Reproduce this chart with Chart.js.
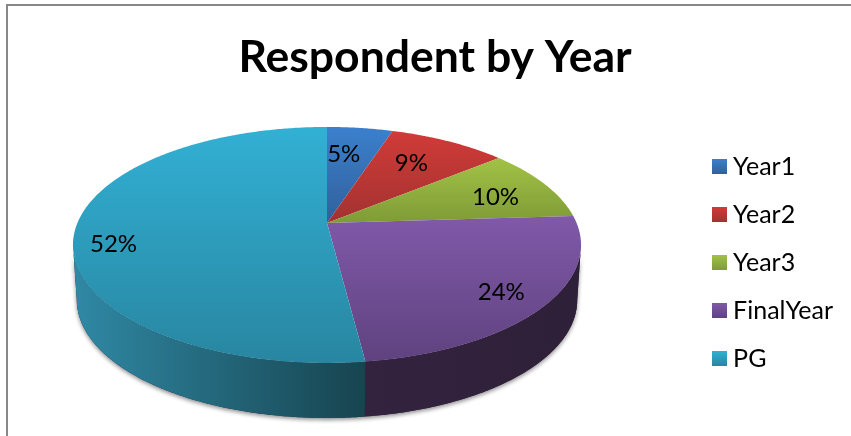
<!DOCTYPE html>
<html>
<head>
<meta charset="utf-8">
<title>Respondent by Year</title>
<script src="https://cdn.jsdelivr.net/npm/chart.js@4"></script>
<style>
  html, body { margin: 0; background: #fff; overflow: hidden; }
  #frame { position: absolute; left: 6px; top: 4px; right: 0; bottom: 0; border-left: 2px solid #888; border-top: 2px solid #888; }
  #chart { position: absolute; left: 0; top: 0; }
</style>
</head>
<body>
<div id="frame"></div>
<canvas id="chart" width="851" height="436"></canvas>
<script>
const categories = ["Year1", "Year2", "Year3", "FinalYear", "PG"];
const percents = [5, 9, 10, 24, 52];

const topColors = ["#3b80cd", "#d03b38", "#a1c245", "#8059a9", "#32b0d4"];
const bottomColors = ["#31609b", "#a23230", "#7f9b37", "#5f427f", "#2886a1"];
const wallLeft = ["#2f5f9a", "#a23230", "#7f9b37", "#33233f", "#2f88a4"];
const wallRight = ["#2f5f9a", "#a23230", "#7f9b37", "#2f2039", "#17444f"];

// tilted disc: the near side of the pie is drawn larger than the far side
const view = { cx: 327, cy: 223, rx: 249.6, ry: 113.9, k: 0.186, depth: 55, baseScale: 0.985 };

// where the silhouette of the projected disc turns, walls stop there
const tangent = Math.asin(view.k);

// nudges from the default label spot, slices are too different for one radius
const labelNudge = [[-9, 5], [-10, 4], [3, 4], [16, 9], [-25, 16]];

function project(angle, r = 1, drop = 0, scale = 1) {
  const u = Math.cos(angle) * r;
  const v = Math.sin(angle) * r;
  const s = 1 / (1 - view.k * v);
  return {
    x: view.cx + view.rx * scale * u * s,
    y: view.cy + drop + view.ry * v * s,
  };
}

function edge(ctx, from, to, drop, scale) {
  const steps = Math.max(2, Math.ceil(Math.abs(to - from) / 0.01));
  for (let i = 0; i <= steps; i++) {
    const p = project(from + ((to - from) * i) / steps, 1, drop, scale);
    ctx.lineTo(p.x, p.y);
  }
}

function wallPath(ctx, from, to) {
  ctx.beginPath();
  edge(ctx, from, to, 0, 1);
  edge(ctx, to, from, view.depth, view.baseScale);
  ctx.closePath();
}

const tiltedPie = {
  id: "tiltedPie",
  // the flat arcs are replaced by the projected ones below
  beforeDatasetDraw(chart) {
    const ctx = chart.ctx;
    const arcs = chart.getDatasetMeta(0).data;

    ctx.save();
    ctx.shadowColor = "rgba(0,0,0,0.45)";
    ctx.shadowBlur = 4;
    ctx.shadowOffsetY = 2;
    ctx.fillStyle = "#2f2039";
    wallPath(ctx, tangent, Math.PI - tangent);
    ctx.fill();
    ctx.restore();

    // side wall, only the part facing the viewer
    arcs.forEach((arc, i) => {
      const from = Math.max(arc.startAngle, tangent);
      const to = Math.min(arc.endAngle, Math.PI - tangent);
      if (to <= from) return;
      const a = project(to, 1, view.depth, view.baseScale);
      const b = project(from, 1, view.depth, view.baseScale);
      const grad = ctx.createLinearGradient(Math.min(a.x, b.x), 0, Math.max(a.x, b.x), 0);
      grad.addColorStop(0, wallLeft[i]);
      grad.addColorStop(1, wallRight[i]);
      wallPath(ctx, from, to);
      ctx.fillStyle = grad;
      ctx.fill();
    });

    // top face
    arcs.forEach((arc, i) => {
      const pts = [project(arc.startAngle, 0)];
      const steps = Math.ceil((arc.endAngle - arc.startAngle) / 0.01);
      for (let s = 0; s <= steps; s++) {
        pts.push(project(arc.startAngle + ((arc.endAngle - arc.startAngle) * s) / steps));
      }
      const ys = pts.map((p) => p.y);
      const grad = ctx.createLinearGradient(0, Math.min(...ys), 0, Math.max(...ys));
      grad.addColorStop(0, topColors[i]);
      grad.addColorStop(1, bottomColors[i]);
      ctx.beginPath();
      pts.forEach((p) => ctx.lineTo(p.x, p.y));
      ctx.closePath();
      ctx.fillStyle = grad;
      ctx.fill();
    });

    ctx.save();
    ctx.fillStyle = "#000";
    ctx.font = "24px Lato";
    ctx.textAlign = "center";
    ctx.textBaseline = "middle";
    arcs.forEach((arc, i) => {
      const p = project((arc.startAngle + arc.endAngle) / 2, 0.75);
      ctx.fillText(percents[i] + "%", p.x + labelNudge[i][0], p.y + labelNudge[i][1]);
    });
    ctx.restore();
    return false;
  },
};

function legendSwatch(i) {
  const c = document.createElement("canvas");
  c.width = 15;
  c.height = 15;
  const g = c.getContext("2d");
  const grad = g.createLinearGradient(0, 0, 0, 15);
  grad.addColorStop(0, topColors[i]);
  grad.addColorStop(1, bottomColors[i]);
  g.fillStyle = grad;
  g.fillRect(0, 0, 15, 15);
  return c;
}

new Chart(document.getElementById("chart"), {
  type: "pie",
  data: {
    labels: categories,
    datasets: [{ data: percents, backgroundColor: topColors, borderWidth: 0 }],
  },
  plugins: [tiltedPie],
  options: {
    responsive: false,
    animation: false,
    layout: { padding: { left: 27, right: 8, bottom: 0 } },
    plugins: {
      tooltip: { enabled: false },
      title: {
        display: true,
        text: "Respondent by Year",
        color: "#000",
        font: { family: "Lato", size: 44.5, weight: "bold" },
        padding: { top: 31, bottom: 5 },
      },
      legend: {
        position: "right",
        fullSize: false,
        labels: {
          color: "#000",
          font: { family: "Lato", size: 25 },
          usePointStyle: true,
          pointStyleWidth: 2,
          padding: 23,
          generateLabels: (chart) =>
            categories.map((text, i) => ({
              text,
              pointStyle: legendSwatch(i),
              fontColor: "#000",
              index: i,
            })),
        },
      },
    },
  },
});
</script>
</body>
</html>
